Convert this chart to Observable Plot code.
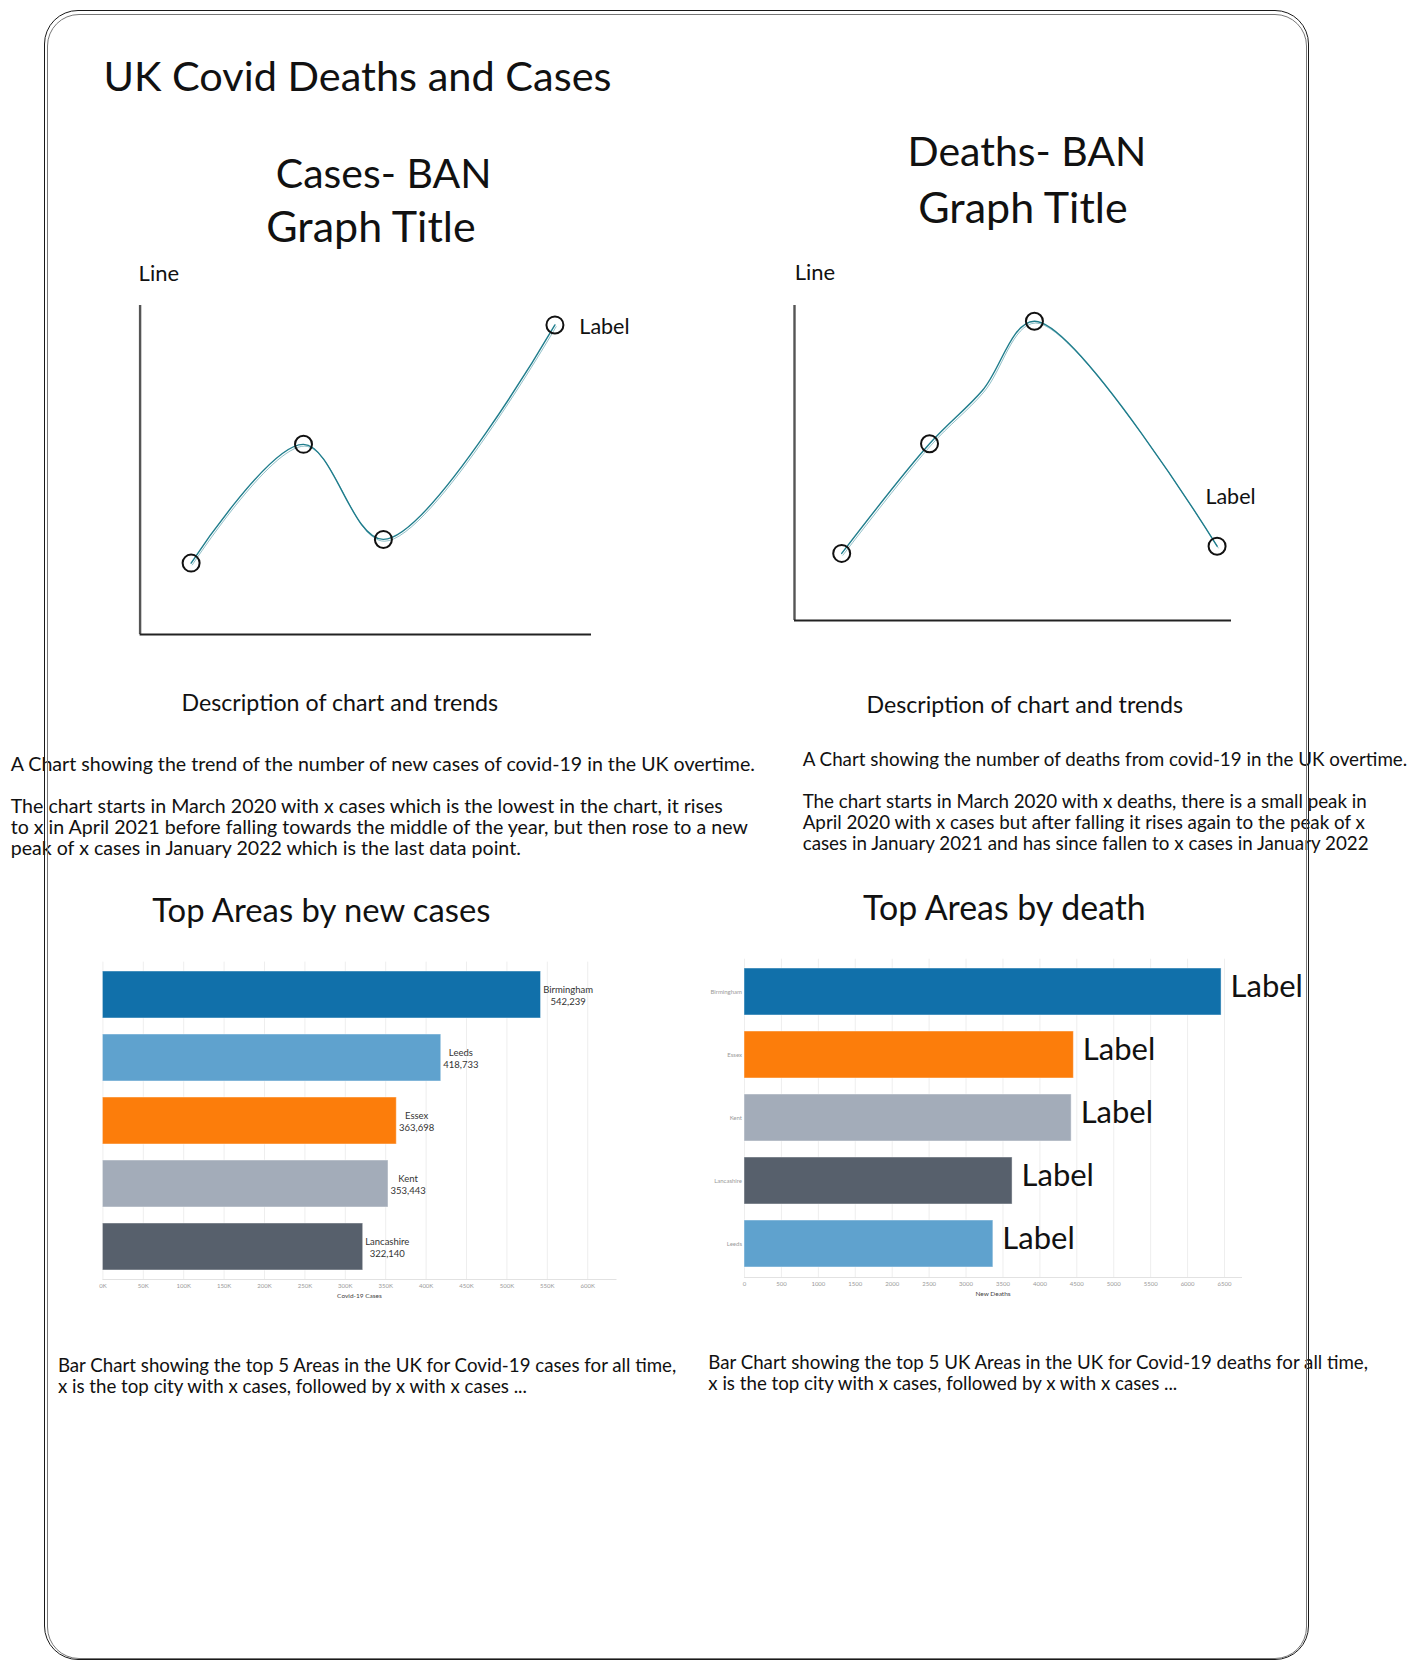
<!DOCTYPE html>
<html><head><meta charset="utf-8">
<script src="https://cdn.jsdelivr.net/npm/d3@7"></script>
<script src="https://cdn.jsdelivr.net/npm/@observablehq/plot@0.6"></script>
<style>
html,body{margin:0;padding:0;background:#fff;}
#page{position:relative;width:1426px;height:1671px;overflow:hidden;font-family:Lato,"Noto Sans",sans-serif;color:#111;}
.t{position:absolute;white-space:pre;line-height:1;}
.c{text-align:center;width:700px;}
.p{position:absolute;white-space:pre;}
.chart{position:absolute;}
.frame{position:absolute;pointer-events:none;box-sizing:border-box;}
</style></head><body>
<div id="page">
  <div class="t" style="left:103.4px;top:54.9px;font-size:41.5px">UK Covid Deaths and Cases</div>
  <div class="t c" style="left:33.7px;top:152.2px;font-size:41px">Cases- BAN</div>
  <div class="t c" style="left:21px;top:203.9px;font-size:43px">Graph Title</div>
  <div class="t c" style="left:677px;top:129.6px;font-size:41px">Deaths- BAN</div>
  <div class="t c" style="left:673px;top:185.4px;font-size:43px">Graph Title</div>
  <div class="t" style="left:138.6px;top:261.5px;font-size:22px">Line</div>
  <div class="t" style="left:794.7px;top:260.5px;font-size:22px">Line</div>

  <div id="lineCases" class="chart" style="left:120px;top:290px"></div>
  <div id="lineDeaths" class="chart" style="left:775px;top:290px"></div>

  <div class="t c" style="left:-10.2px;top:690.6px;font-size:23.2px">Description of chart and trends</div>
  <div class="t c" style="left:674.8px;top:693.1px;font-size:23.2px">Description of chart and trends</div>

  <div class="p" style="left:10.7px;top:753.4px;font-size:19.6px;line-height:21px">A Chart showing the trend of the number of new cases of covid-19 in the UK overtime.

The chart starts in March 2020 with x cases which is the lowest in the chart, it rises
to x in April 2021 before falling towards the middle of the year, but then rose to a new
peak of x cases in January 2022 which is the last data point.</div>
  <div class="p" style="left:802.7px;top:748.2px;font-size:18.8px;line-height:21px">A Chart showing the number of deaths from covid-19 in the UK overtime.

The chart starts in March 2020 with x deaths, there is a small peak in
April 2020 with x cases but after falling it rises again to the peak of x
cases in January 2021 and has since fallen to x cases in January 2022</div>

  <div class="t c" style="left:-28.6px;top:894.0px;font-size:32.8px">Top Areas by new cases</div>
  <div class="t c" style="left:654.4px;top:891.0px;font-size:33.9px">Top Areas by death</div>

  <div id="barCases" class="chart" style="left:90px;top:940px"></div>
  <div id="barDeaths" class="chart" style="left:640px;top:930px"></div>

  <div class="p" style="left:57.9px;top:1355px;font-size:18.7px;line-height:21px">Bar Chart showing the top 5 Areas in the UK for Covid-19 cases for all time,
x is the top city with x cases, followed by x with x cases ...</div>
  <div class="p" style="left:708.3px;top:1351.9px;font-size:18.7px;line-height:21px">Bar Chart showing the top 5 UK Areas in the UK for Covid-19 deaths for all time,
x is the top city with x cases, followed by x with x cases ...</div>

  <div class="frame" style="left:44px;top:10px;width:1265px;height:1650px;border:1.6px solid #1a1a1a;border-radius:34px"></div>
  <div class="frame" style="left:47px;top:13.5px;width:1260px;height:1645px;border:1px solid #777;border-radius:32px"></div>
</div>
<script>
// ---- sketch line charts (relative positions read from the wireframe, 0–100) ----
const casePos   = [11.3, 36.2, 53.9, 91.9];
const caseLevel = [21.7, 57.8, 28.9, 94.1];
const deathPos   = [10.8, 30.9, 54.9, 96.7];
const deathLevel = [21.3, 56.1, 95.0, 23.6];
const deathPathPos   = [10.8, 30.9, 43.0, 54.9, 96.7];
const deathPathLevel = [21.3, 56.1, 73.0, 95.0, 23.6];

// ---- bar charts ----
const caseAreas  = ["Birmingham", "Leeds", "Essex", "Kent", "Lancashire"];
const caseCounts = [542239, 418733, 363698, 353443, 322140];
const deathAreas  = ["Birmingham", "Essex", "Kent", "Lancashire", "Leeds"];
const deathCounts = [6460, 4460, 4430, 3630, 3370];
const areaNames  = ["Birmingham", "Leeds", "Essex", "Kent", "Lancashire"];
const areaColors = ["#1170aa", "#5fa2ce", "#fc7d0b", "#a3acb9", "#57606c"];
const caseTicks  = [0, 50000, 100000, 150000, 200000, 250000, 300000, 350000, 400000, 450000, 500000, 550000, 600000];
const deathTicks = [0, 500, 1000, 1500, 2000, 2500, 3000, 3500, 4000, 4500, 5000, 5500, 6000, 6500];

const FONT = "Lato, 'Noto Sans', sans-serif";
const LINE = "#1f7d8c";

function lineChart(points, path, o) {
  return Plot.plot({
    width: o.width, height: o.height,
    marginLeft: o.ml, marginRight: o.mr, marginTop: o.mt, marginBottom: o.mb,
    style: {fontFamily: FONT, background: "transparent", overflow: "visible"},
    x: {domain: [0, 100], axis: null},
    y: {domain: [0, 100], axis: null},
    marks: [
      Plot.ruleX([0], {stroke: "#555", strokeWidth: 2.4}),
      Plot.ruleY([0], {stroke: "#222", strokeWidth: 2.2}),
      Plot.line(path, {x: "x", y: "y", curve: "catmull-rom", stroke: LINE, strokeWidth: 1.4}),
      Plot.line(path, {x: "x", y: "y", curve: "catmull-rom", stroke: LINE, strokeWidth: 0.9, strokeOpacity: 0.55, dx: 1.2, dy: 1.8}),
      Plot.dot(points, {x: "x", y: "y", r: 8.5, stroke: "#111", strokeWidth: 2, fill: "none"}),
      Plot.text(points.slice(-1), {x: "x", y: "y", text: () => "Label", textAnchor: "start",
        dx: o.ldx, dy: o.ldy, fontSize: 21.5, fill: "#111", fontFamily: FONT})
    ]
  });
}

const casePoints = casePos.map((x, i) => ({x, y: caseLevel[i]}));
const deathPoints = deathPos.map((x, i) => ({x, y: deathLevel[i]}));
const deathPath = deathPathPos.map((x, i) => ({x, y: deathPathLevel[i]}));

document.getElementById("lineCases").append(lineChart(casePoints, casePoints,
  {width: 540, height: 354, ml: 19.6, mr: 69, mt: 15, mb: 10, ldx: 24.4, ldy: 2.4}));
document.getElementById("lineDeaths").append(lineChart(deathPoints, deathPath,
  {width: 500, height: 340, ml: 19, mr: 44, mt: 15, mb: 10, ldx: -11.7, ldy: -49}));

const caseData = caseAreas.map((area, i) => ({area, value: caseCounts[i]}));
const deathData = deathAreas.map((area, i) => ({area, value: deathCounts[i]}));
const colorScale = {domain: areaNames, range: areaColors};

const barCases = Plot.plot({
  width: 600, height: 369, marginLeft: 12.4, marginRight: 74.5, marginTop: 21.6, marginBottom: 30,
  style: {fontFamily: FONT, background: "transparent", overflow: "visible"},
  x: {domain: [0, 635000]},
  y: {domain: caseAreas, paddingInner: 0.25, paddingOuter: 0.125, axis: null},
  color: colorScale,
  marks: [
    Plot.gridX(caseTicks, {stroke: "#eeeeee", strokeOpacity: 1}),
    Plot.frame({anchor: "bottom", stroke: "#e2e2e2"}),
    Plot.barX(caseData, {x: "value", y: "area", fill: "area", stroke: "#ffffff", strokeOpacity: 0.45, strokeWidth: 1}),
    Plot.axisX(caseTicks, {tickSize: 0, tickPadding: 4, tickFormat: d => d / 1000 + "K", fontSize: 6, fill: "#9a9a9a", label: null}),
    Plot.text(["Covid-19 Cases"], {frameAnchor: "bottom", dy: 18, fontSize: 6.5, fill: "#444"}),
    Plot.text(caseData, {x: "value", y: "area", text: d => `${d.area}\n${d3.format(",")(d.value)}`,
      textAnchor: "start", dx: 2, fontSize: 9.5, lineHeight: 1.3, fill: "#333"})
  ]
});
document.getElementById("barCases").append(barCases);

const barDeaths = Plot.plot({
  width: 680, height: 377, marginLeft: 104, marginRight: 79, marginTop: 28.7, marginBottom: 30,
  style: {fontFamily: FONT, background: "transparent", overflow: "visible"},
  x: {domain: [0, 6730]},
  y: {domain: deathAreas, paddingInner: 0.25, paddingOuter: 0.125},
  color: colorScale,
  marks: [
    Plot.gridX(deathTicks, {stroke: "#eeeeee", strokeOpacity: 1}),
    Plot.frame({anchor: "bottom", stroke: "#e2e2e2"}),
    Plot.barX(deathData, {x: "value", y: "area", fill: "area", stroke: "#ffffff", strokeOpacity: 0.45, strokeWidth: 1}),
    Plot.axisX(deathTicks, {tickSize: 0, tickPadding: 4, tickFormat: d3.format("d"), fontSize: 6, fill: "#9a9a9a", label: null}),
    Plot.axisY({tickSize: 0, tickPadding: 2.5, fontSize: 6, fill: "#9a9a9a", label: null}),
    Plot.text(["New Deaths"], {frameAnchor: "bottom", dy: 18.5, fontSize: 6.5, fill: "#444"}),
    Plot.text(deathData, {x: "value", y: "area", text: () => "Label", textAnchor: "start",
      dx: 9, dy: -5, fontSize: 31, fill: "#111"})
  ]
});
document.getElementById("barDeaths").append(barDeaths);

// centre the two lines of each bar label within its own block
barCases.querySelectorAll("text").forEach(t => {
  const spans = t.querySelectorAll("tspan");
  if (spans.length !== 2) return;
  const w = t.getBBox().width;
  t.setAttribute("text-anchor", "middle");
  spans.forEach(s => s.setAttribute("text-anchor", "middle"));
  t.setAttribute("transform", (t.getAttribute("transform") || "") + ` translate(${w / 2},0)`);
});
</script>
</body></html>
